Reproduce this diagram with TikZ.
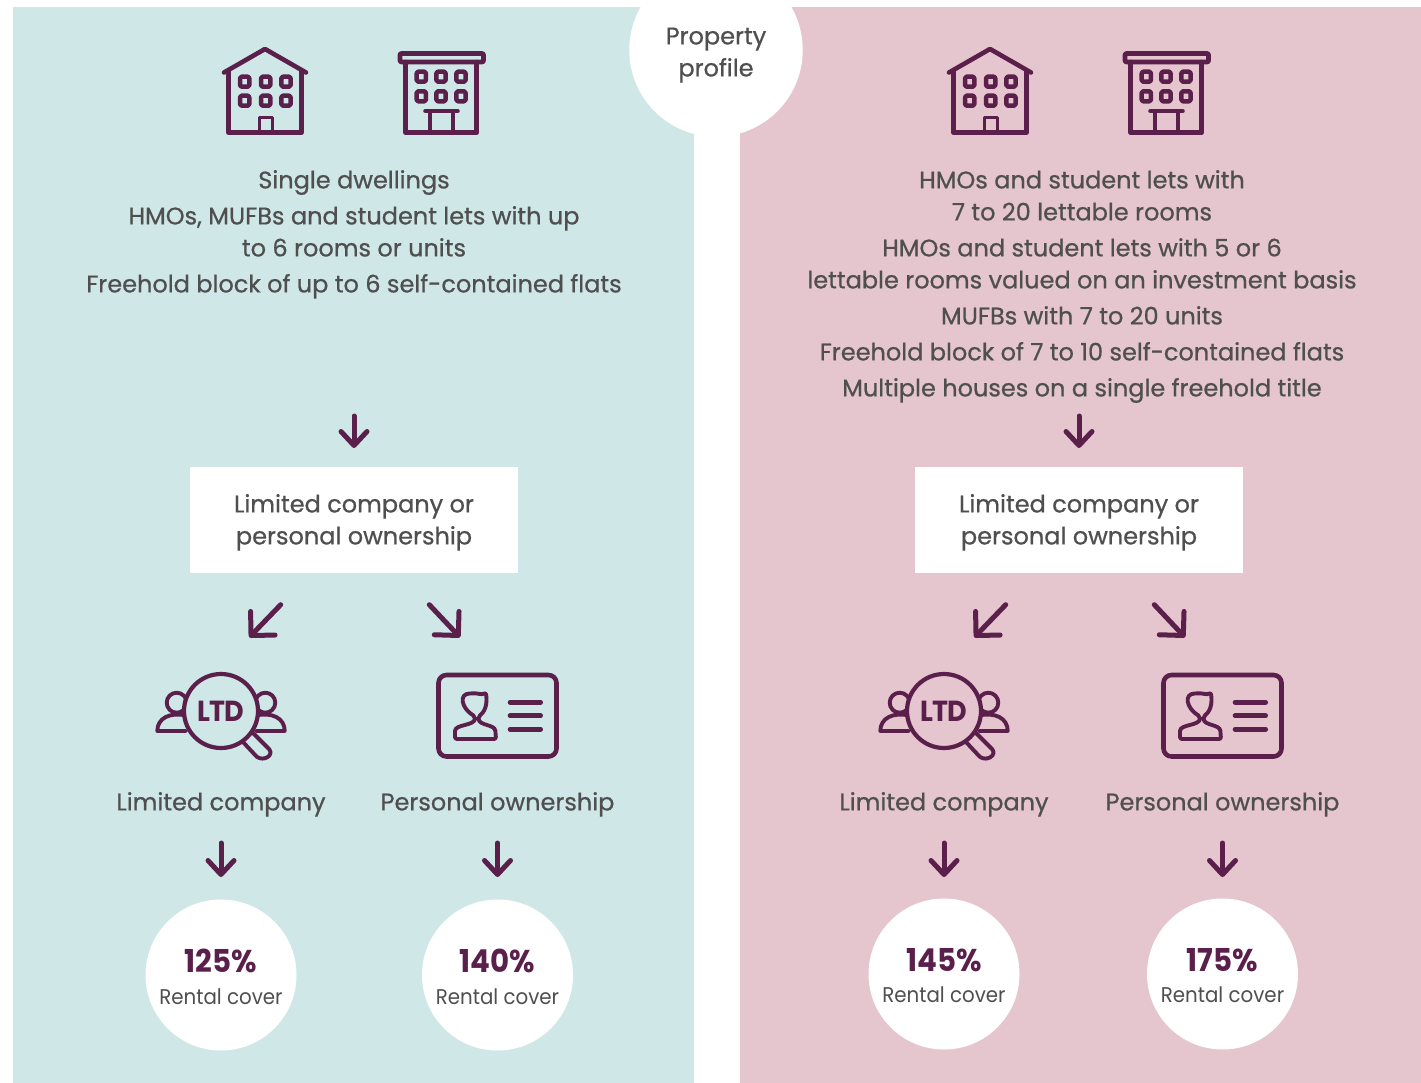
\documentclass[tikz,border=0pt]{standalone}
\usepackage{fontspec}
\usetikzlibrary{arrows.meta}
\setmainfont{Poppins}[FakeBold=0.7]
\newfontfamily\regfont{Poppins}[FakeStretch=0.93]
\definecolor{plum}{HTML}{5A1F4B}
\definecolor{inktext}{HTML}{4F4F4F}
\definecolor{teal}{HTML}{CFE8E7}
\definecolor{rose}{HTML}{E5C5CE}
\tikzset{
  body/.style={text=inktext,align=center,inner sep=0pt,font=\fontsize{24}{32}\selectfont,yshift=-2pt},
  small/.style={text=inktext,inner sep=0pt,font=\regfont\fontsize{21.3}{26}\selectfont},
  pct/.style={text=plum,inner sep=0pt,font=\regfont\fontsize{31.5}{32}\selectfont\bfseries},
  whitebox/.style={fill=white,draw=none,inner sep=0pt,minimum width=328pt,minimum height=106pt},
  disc/.style={circle,fill=white,draw=none,inner sep=0pt,minimum size=151pt},
  topdisc/.style={circle,fill=white,draw=none,inner sep=0pt,minimum size=173.5pt},
  varrow/.style={draw=plum,line width=5pt,line cap=round,-{Straight Barb[round,length=14pt,width=26pt]}},
  darrow/.style={draw=plum,line width=5pt,line cap=round,-{Straight Barb[round,length=17pt,width=34pt]}},
  icon/.style={draw=plum,line width=4.6pt,line join=round,line cap=round},
  thin/.style={draw=plum,line width=3.9pt,line join=round,line cap=round},
}
\newcommand{\winrow}[3]{%
  \foreach \wx in {#1}{\draw[thin,line width=4.5pt,rounded corners=1.5pt] (\wx-4.6,#2-5) rectangle (\wx+4.6,#2+5);}%
}
\newcommand{\buildings}{%
  \draw[icon] (224,72.5) -- (265,49) -- (306,72.5);
  \draw[icon] (228.5,71) -- (228.5,132.5) -- (301.5,132.5) -- (301.5,71);
  \winrow{244.7,265.7,286}{81.7}{}
  \winrow{244.7,265.7,286}{100.7}{}
  \draw[thin] (259.5,132.5) -- (259.5,117.5) -- (272.5,117.5) -- (272.5,132.5);
  \draw[icon,rounded corners=1pt] (400,53.5) rectangle (483.5,62);
  \draw[icon] (405.7,62) -- (405.7,132.7) -- (476.7,132.7) -- (476.7,62);
  \winrow{421.3,441,461}{76.7}{}
  \winrow{421.3,441,461}{96.3}{}
  \draw[icon] (425.5,111) -- (457.5,111);
  \draw[thin] (430,111) -- (430,132.7);
  \draw[thin] (453.3,111) -- (453.3,132.7);
}
\newcommand{\ltdicon}[1]{%
  \foreach \flip/\cx in {1/0,-1/442}{%
    \begin{scope}[shift={(\cx,0)},xscale=\flip]
      \draw[thin] (176.7,702.7) circle[radius=10pt];
      \draw[thin] (186,715.5) .. controls (170,712) and (157.3,718) .. (157.3,731) -- (186,731);
    \end{scope}}
  \draw[thin] (253.3,733.3) -- (269.3,749.3) .. controls (274,755) and (264,762) .. (256.7,756.7) -- (243,742);
  \node[circle,fill=#1,draw=plum,line width=4.2pt,minimum size=74pt,inner sep=0pt,text=plum,
        font=\regfont\fontsize{29}{30}\selectfont\bfseries] (ltd) at (221,711) {\addfontfeature{LetterSpace=-4}LTD};
}
\newcommand{\cardicon}{%
  \draw[icon,rounded corners=8pt] (438.5,675) rectangle (556.5,756.5);
  \foreach \ly in {702.3,715.7,729.3}{\draw[icon] (510,\ly) -- (540.7,\ly);}
  \draw[thin,rounded corners=2pt] (455,739) -- (455,733)
    .. controls (455,724) and (475,726) .. (475,716.5)
    .. controls (461,708) and (459,694) .. (471,693.5)
    .. controls (477,693) and (482,695) .. (485.7,692.5)
    .. controls (487,700) and (487,710) .. (478.5,716.5)
    .. controls (478.5,726) and (495,724) .. (495.5,733) -- (496,739) -- cycle;
}
% lower half of a panel: #1 prefix, #2 LTD icon shift, #3 circles y, #4 bg, #5 #6 percentages, #7 pct y, #8 label y
\newcommand{\lowerpanel}[8]{%
  \begin{scope}[name prefix=#1]
    \coordinate (topS) at (354,416); \coordinate (topE) at (354,448);
    \draw[varrow] (topS) -- (topE);
    \node[whitebox] (own) at (354,520) {};
    \node[body] (ownt) at (354,520) {\strut Limited company or\\\strut personal ownership};
    \coordinate (dlS) at (280.7,604.7); \coordinate (dlE) at (249.3,637.3);
    \coordinate (drS) at (429.3,604.7); \coordinate (drE) at (460,637.3);
    \draw[darrow] (dlS) -- (dlE);
    \draw[darrow] (drS) -- (drE);
    \begin{scope}[xshift=#2pt]
      \ltdicon{#4}
      \node[body] (lc) at (221,802) {\strut Limited company};
      \coordinate (a1S) at (221,843); \coordinate (a1E) at (221,877);
      \draw[varrow] (a1S) -- (a1E);
      \node[disc] (d1) at (221,#3) {};
      \node[pct] (p1) at (221,#7) {#5};
      \node[small] (r1) at (221,#8) {Rental cover};
    \end{scope}
    \cardicon
    \node[body] (po) at (497.5,802) {\strut Personal ownership};
    \coordinate (a2S) at (497.5,843); \coordinate (a2E) at (497.5,877);
    \draw[varrow] (a2S) -- (a2E);
    \node[disc] (d2) at (497.5,#3) {};
    \node[pct] (p2) at (497.5,#7) {#6};
    \node[small] (r2) at (497.5,#8) {Rental cover};
  \end{scope}
}
\begin{document}
\begin{tikzpicture}[x=1pt,y=-1pt]
\useasboundingbox (0,0) rectangle (1421,1083);
\fill[white] (0,0) rectangle (1421,1083);
\fill[teal] (13,7) rectangle (694,1083);
\fill[rose] (740,7) rectangle (1421,1083);
\fill[white] (694,0) rectangle (740,140);
\node[topdisc] (profile) at (716,50) {};
\node[body] (profilet) at (716,52) {\strut Property\\\strut profile};
% left panel
\buildings
\node[body] (s1) at (354,180) {\strut Single dwellings};
\node[body] (s2) at (354,232) {\strut HMOs, MUFBs and student lets with up\\\strut to 6 rooms or units};
\node[body] (s3) at (354,284) {\strut Freehold block of up to 6 self-contained flats};
\lowerpanel{L-}{0}{975}{teal}{125\%}{140\%}{961}{997}
% right panel
\begin{scope}[xshift=725pt]
\buildings
\node[body] (h1) at (357,196) {\strut HMOs and student lets with\\\strut 7 to 20 lettable rooms};
\node[body] (h2) at (357,264) {\strut HMOs and student lets with 5 or 6\\\strut lettable rooms valued on an investment basis};
\node[body] (h3) at (357,316) {\strut MUFBs with 7 to 20 units};
\node[body] (h4) at (357,352) {\strut Freehold block of 7 to 10 self-contained flats};
\node[body] (h5) at (357,388) {\strut Multiple houses on a single freehold title};
\lowerpanel{R-}{-2}{974}{rose}{145\%}{175\%}{960}{995}
\end{scope}
\end{tikzpicture}
\end{document}
